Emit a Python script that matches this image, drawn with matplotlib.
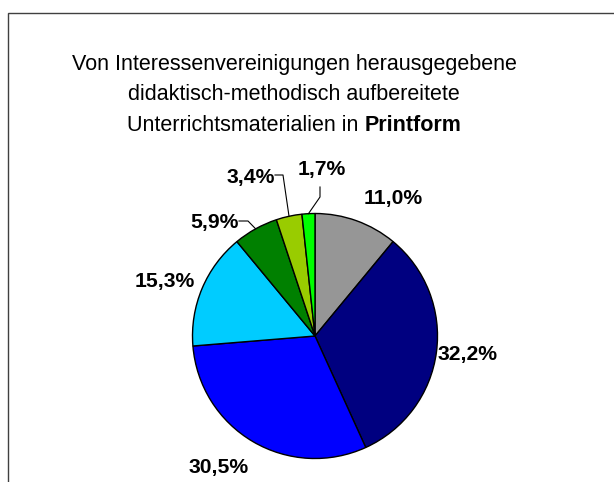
import matplotlib
matplotlib.use("Agg")
import matplotlib.pyplot as plt
import numpy as np
from matplotlib.patches import Rectangle
from matplotlib.lines import Line2D

# ---- data ----
labels = ["11,0%", "32,2%", "30,5%", "15,3%", "5,9%", "3,4%", "1,7%"]
values = [11.0, 32.2, 30.5, 15.3, 5.9, 3.4, 1.7]
colors = ["#969696", "#000080", "#0000FF", "#00CCFF", "#008000", "#99CC00", "#00FF00"]
title_lines = ["Von Interessenvereinigungen herausgegebene",
               "didaktisch-methodisch aufbereitete",
               "Unterrichtsmaterialien in "]
title_bold = "Printform"

# ---- layout (pixels) ----
W, H = 614, 482
plt.rcParams['font.family'] = ['Liberation Sans', 'DejaVu Sans']
fig = plt.figure(figsize=(W / 100, H / 100), dpi=100)

def fx(px):
    return px / W

def fy(py):
    return 1 - py / H

# frame (only top/left visible, rest cropped)
fig.patches.append(Rectangle((fx(8), fy(H + 20)), 1.2, fy(13) - fy(H + 20),
                             transform=fig.transFigure, fill=False,
                             edgecolor="#404040", linewidth=1.0))

cx, cy, R = 315, 336, 122.5
ax = fig.add_axes([fx(cx - R), fy(cy + R), 2 * R / W, 2 * R / H])
wedges, _ = ax.pie(values, colors=colors, startangle=90, counterclock=False,
                   radius=1, wedgeprops=dict(edgecolor="black", linewidth=1.0))
ax.set_xlim(-1, 1)
ax.set_ylim(-1, 1)
ax.set_aspect("equal")
ax.axis("off")

# label baseline-centre offsets from pie centre in pixels
label_off = [(78, 132), (153, -24), (-96, -137), (-150.5, 49),
             (-100.5, 108), (-64, 153), (6.5, 161)]
for lab, (dx, dy) in zip(labels, label_off):
    ax.text(dx / R, dy / R, lab, ha="center", va="baseline",
            fontsize=15.2, fontweight="bold", color="black", clip_on=False)

# leader lines for small slices
leader_start = {4: [(-76, 115), (-67, 115)],
                5: [(-40, 161), (-32, 161)],
                6: [(5, 149), (5, 139)]}
cum = np.cumsum([0] + values)
total = sum(values)
for i, pts in leader_start.items():
    mid = (cum[i] + cum[i + 1]) / 2 / total
    ang = np.deg2rad(90 - 360 * mid)
    xs = [p[0] / R for p in pts] + [np.cos(ang)]
    ys = [p[1] / R for p in pts] + [np.sin(ang)]
    ax.add_line(Line2D(xs, ys, color="black", linewidth=0.8, clip_on=False))

# title
tcx = 294
baselines = [70, 100, 131]
tfs = 15.5
for line, b in zip(title_lines[:2], baselines[:2]):
    fig.text(fx(tcx), fy(b), line, ha="center", va="baseline", fontsize=tfs)

renderer = fig.canvas.get_renderer()
t1 = fig.text(0, fy(baselines[2]), title_lines[2].rstrip(), ha="left", va="baseline",
              fontsize=tfs)
t2 = fig.text(0, fy(baselines[2]), title_bold, ha="left", va="baseline", fontsize=tfs,
              fontweight="bold")
w1 = t1.get_window_extent(renderer).width
w2 = t2.get_window_extent(renderer).width
sp = 0.278 * tfs * 100 / 72  # width of a space in Arial metrics
total_w = w1 + sp + w2
left = tcx - total_w / 2
t1.set_x(fx(left))
t2.set_x(fx(left + w1 + sp))

fig.savefig("out.png", dpi=100, facecolor="white")
